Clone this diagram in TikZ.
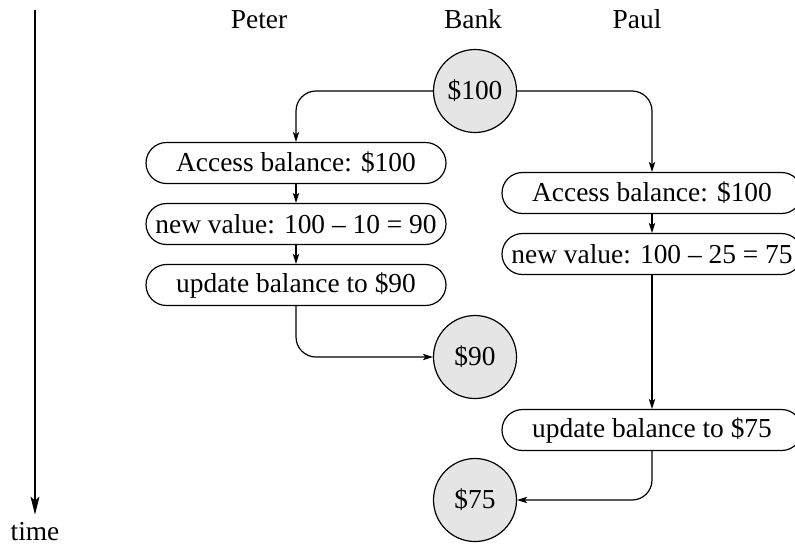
\documentclass[tikz,border=0pt]{standalone}
\usepackage{fontspec}
\setmainfont{Liberation Serif}
\usetikzlibrary{arrows.meta}
\begin{document}
\begin{tikzpicture}[x=0.5pt,y=-0.5pt,
  font=\fontsize{13.7}{16}\selectfont, line width=0.6pt,
  state/.style={circle,draw,fill=black!10,minimum size=41.5pt,inner sep=0pt},
  stepbox/.style={draw,rounded corners=10.25pt,minimum width=150pt,minimum height=20.5pt,inner xsep=2.5pt,inner ysep=0pt},
  flow/.style={-{Stealth[length=5pt,width=3.2pt,inset=1.2pt]},rounded corners=10pt},
  lbl/.style={anchor=base}]
\useasboundingbox (0,0) rectangle (795,543);
\node[lbl] (peter) at (259,28) {Peter};
\node[lbl] (bank) at (473,28) {Bank};
\node[lbl] (paul) at (637,28) {Paul};
\node[state] (b100) at (475,91) {\$100};
\node[stepbox] (a1) at (296,163) {Access balance: \$100};
\node[stepbox] (a2) at (296,224) {new value: 100 -- 10 = 90};
\node[stepbox] (a3) at (296,285) {update balance to \$90};
\node[state] (b90) at (475,357) {\$90};
\node[stepbox] (c1) at (652,193) {Access balance: \$100};
\node[stepbox] (c2) at (652,254) {new value: 100 -- 25 = 75};
\node[stepbox] (c3) at (652,430) {update balance to \$75};
\node[state] (b75) at (475,500) {\$75};
\node[lbl] (time) at (35,540) {time};
\coordinate (t0) at (35,10);
\draw[-{Stealth[length=9pt,width=4.5pt,inset=2pt]}] (t0) -- (time.north);
\draw[flow] (b100.west) -| (a1.north);
\draw[flow] (b100.east) -| (c1.north);
\draw[flow] (a1) -- (a2);
\draw[flow] (a2) -- (a3);
\draw[flow] (a3.south) |- (b90.west);
\draw[flow] (c1) -- (c2);
\draw[flow] (c2) -- (c3);
\draw[flow] (c3.south) |- (b75.east);
\end{tikzpicture}
\end{document}
